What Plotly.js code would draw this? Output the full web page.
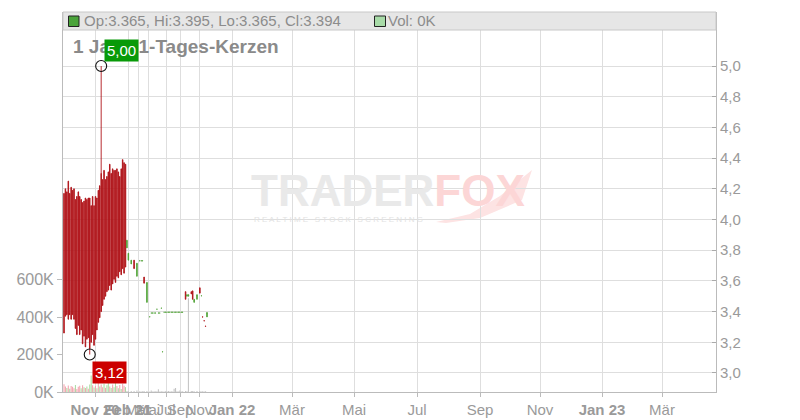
<!DOCTYPE html>
<html><head><meta charset="utf-8">
<script src="https://cdn.plot.ly/plotly-3.0.1.min.js"></script>
<style>html,body{margin:0;padding:0;background:#fff}#chart{width:800px;height:420px}</style>
</head><body><div id="chart"></div>
<script>
// ---- data (ordinal slot positions on a compressed time axis) ----
const slots = [0,1,2,3,4,5,6,7,8,9,10,11,12,13,14,15,16,17,18,19,20,21,22,23,24,25,26,27,28,29,30,31,32,33,34,35,36,37,38,39,40,41,42,43,
  44,45,47,49,51,53,54,55,56,58,60,61,62,63,64,65,66,67,68,69,
  70,71,72,73,74,75,76,77,78,79,80,81,82,83,85,86,87,89,90,91,93,95,96,97,98,99,100];
const opens = [4.17,4.20,4.18,4.25,4.17,4.21,4.19,4.20,4.13,4.15,4.18,4.15,4.13,4.11,4.12,4.14,4.13,4.14,4.14,4.09,4.15,4.09,4.15,4.14,4.19,4.22,4.30,4.26,4.32,4.26,4.28,4.31,4.36,4.30,4.33,4.32,4.32,4.33,4.31,4.28,4.33,4.39,4.37,4.36,
  3.815,3.735,3.71,3.735,3.63,3.730,3.730,3.730,3.625,3.46,3.365,3.390,3.390,3.390,3.390,3.415,3.390,3.390,3.422,3.137,
  3.395,3.395,3.395,3.395,3.395,3.395,3.395,3.395,3.395,3.395,3.395,3.395,3.395,3.395,3.53,3.500,3.50,3.53,3.535,3.46,3.48,3.555,3.502,3.366,3.341,3.306,3.365];
const highs = [4.17,4.20,4.18,4.25,4.17,4.21,4.19,4.20,4.13,4.15,4.18,4.15,4.13,4.11,4.12,4.14,4.13,4.14,4.14,4.09,4.15,4.09,4.15,4.14,4.19,4.22,5.00,4.26,4.32,4.26,4.28,4.31,4.36,4.30,4.33,4.32,4.32,4.33,4.31,4.28,4.33,4.39,4.37,4.36,
  3.865,3.78,3.735,3.735,3.715,3.731,3.731,3.731,3.625,3.59,3.366,3.391,3.391,3.391,3.391,3.416,3.391,3.391,3.423,3.138,
  3.396,3.396,3.396,3.396,3.396,3.396,3.396,3.396,3.396,3.396,3.396,3.396,3.396,3.396,3.53,3.51,3.51,3.53,3.535,3.48,3.51,3.555,3.503,3.366,3.341,3.306,3.395];
const lows = [3.26,3.37,3.38,3.35,3.38,3.35,3.38,3.35,3.29,3.25,3.31,3.25,3.28,3.19,3.24,3.17,3.22,3.23,3.12,3.20,3.25,3.18,3.22,3.28,3.33,3.36,3.40,3.44,3.48,3.50,3.53,3.54,3.57,3.54,3.58,3.61,3.59,3.63,3.62,3.66,3.64,3.68,3.65,3.69,
  3.815,3.735,3.71,3.68,3.63,3.730,3.730,3.730,3.585,3.46,3.365,3.390,3.390,3.390,3.390,3.415,3.390,3.390,3.422,3.137,
  3.395,3.395,3.395,3.395,3.395,3.395,3.395,3.395,3.395,3.395,3.395,3.395,3.395,3.395,3.48,3.500,3.50,3.515,3.48,3.46,3.48,3.52,3.502,3.364,3.339,3.304,3.365];
const closes = [3.26,3.37,3.38,3.35,3.38,3.35,3.38,3.35,3.29,3.25,3.31,3.25,3.28,3.19,3.24,3.17,3.22,3.23,3.16,3.20,3.25,3.18,3.22,3.28,3.33,3.36,3.40,3.44,3.48,3.50,3.53,3.54,3.57,3.54,3.58,3.61,3.59,3.63,3.62,3.66,3.64,3.68,3.65,3.69,
  3.865,3.78,3.735,3.68,3.715,3.731,3.731,3.731,3.585,3.59,3.366,3.391,3.391,3.391,3.391,3.416,3.391,3.391,3.423,3.138,
  3.396,3.396,3.396,3.396,3.396,3.396,3.396,3.396,3.396,3.396,3.396,3.396,3.396,3.396,3.48,3.51,3.51,3.515,3.48,3.48,3.51,3.52,3.503,3.364,3.339,3.304,3.394];
const volumesK = [42,30,22,35,18,32,28,20,38,16,28,34,20,36,26,22,30,18,40,88,36,24,32,20,50,30,40,26,44,22,36,56,30,22,40,26,48,32,20,38,16,44,34,26,
  6,4,5,6,8,4,3,4,6,5,3,8,3,4,3,4,15,3,4,3,
  3,4,3,5,3,4,3,18,22,4,3,8,3,4,6,4,500,5,6,4,5,6,3,4,3,4,0];
const volumeDir = ['d','d','u','d','u','d','d','d','u','d','d','d','u','d','u','d','u','d','u','u','d','u','d','u','d','u','d','d','u','d','u','u','d','u','d','u','u','d','u','d','u','d','d','u',
  'n','n','n','n','n','n','n','n','n','n','n','n','n','n','n','n','n','n','n','n',
  'n','n','n','n','n','n','n','n','n','n','n','n','n','n','n','n','n','n','n','n','n','n','n','n','n','n','n'];
const tickSlots = [21.68,44.76,51.75,58.74,71.33,81.12,94.41,117.48,159.44,202.80,246.85,290.91,332.87,376.22,418.18];
const tickLabels = ['<b>Nov 20</b>','<b>Feb 21</b>','Mär','Mai','Jul','Sep','Nov','<b>Jan 22</b>','Mär','Mai','Jul','Sep','Nov','<b>Jan 23</b>','Mär'];
const priceTicks = [3.0,3.2,3.4,3.6,3.8,4.0,4.2,4.4,4.6,4.8,5.0];
const volumeTicks = [0,200,400,600];

// ---- styling ----
const FONT = 'Liberation Sans, Arial, sans-serif';
const GREEN = '#4fa336', RED = '#b0141a';
const volColors = {u:'#acdca4', d:'#f2a7b0', n:'#c4c4c4'};
const W = 800, H = 420, L = 63, R = 716, T = 12, B = 392;
const px = x => (x - L) / (R - L);
const py = y => (B - y) / (B - T);

const n = closes.length;
let hiI = 0, loI = 0;
for (let i = 0; i < n; i++) { if (highs[i] > highs[hiI]) hiI = i; if (lows[i] < lows[loI]) loI = i; }
const fmt = v => v.toFixed(2).replace('.', ',');
const last = n - 1;

const traces = [
  {type:'bar', x:slots, y:volumesK, yaxis:'y2', width:0.75,
   marker:{color:volumeDir.map(d => volColors[d]), line:{width:0}}, hoverinfo:'skip', showlegend:false},
  {type:'candlestick', x:slots, open:opens, high:highs, low:lows, close:closes,
   increasing:{line:{color:GREEN, width:0.9}, fillcolor:GREEN},
   decreasing:{line:{color:RED, width:0.9}, fillcolor:RED},
   whiskerwidth:0, hoverinfo:'skip', showlegend:false},
  {type:'scatter', mode:'markers', x:[slots[hiI], slots[loI]], y:[highs[hiI], lows[loI]],
   marker:{symbol:'circle-open', size:11, color:'#111', line:{width:1.1, color:'#111'}},
   hoverinfo:'skip', showlegend:false}
];

const tail = 'M ' + [[436,222],[470,214],[500,196],[532,170],[522,200],[480,218],[446,223]]
  .map((p,i) => (i ? 'L ' : '') + px(p[0]) + ',' + py(p[1])).join(' ') + ' Z';

const layout = {
  width:W, height:H, margin:{l:L, r:W-R, t:T, b:H-B, pad:0},
  paper_bgcolor:'#fff', plot_bgcolor:'#fff', separators:',.',
  font:{family:FONT, color:'#999', size:15},
  showlegend:false, dragmode:false, boxgap:0.45,
  xaxis:{type:'linear', range:[-0.7, 455.94], tickvals:tickSlots, ticktext:tickLabels, tickangle:0, automargin:false,
    showgrid:true, gridcolor:'#dedede', gridwidth:1, zeroline:false,
    showline:true, linecolor:'#bbb', ticks:'outside', ticklen:4, tickcolor:'#bbb',
    tickfont:{size:15, color:'#9a9a9a', family:FONT}, rangeslider:{visible:false}, fixedrange:true},
  yaxis:{side:'right', range:[2.876, 5.352], tickvals:priceTicks, tickformat:'.1f', automargin:false,
    showgrid:true, gridcolor:'#dedede', zeroline:false, showline:true, linecolor:'#bbb',
    ticks:'inside', ticklen:4, tickcolor:'#aaa', tickfont:{size:15, color:'#9a9a9a', family:FONT}, fixedrange:true},
  yaxis2:{overlaying:'y', side:'left', range:[0, 2026.7], tickvals:volumeTicks, ticktext:volumeTicks.map(v => v + 'K'), automargin:false,
    showgrid:false, zeroline:false, showline:true, linecolor:'#bbb',
    ticks:'outside', ticklen:5, tickcolor:'#bbb', tickfont:{size:16, color:'#9a9a9a', family:FONT}, fixedrange:true},
  shapes:[
    {type:'path', xref:'paper', yref:'paper', path:tail, fillcolor:'#fde3e3', line:{width:0}, layer:'below'},
    {type:'rect', xref:'paper', yref:'paper', x0:0, x1:1, y0:py(30), y1:1, fillcolor:'#e6e6e6', line:{color:'#c8c8c8', width:1}, layer:'above', opacity:1},
    {type:'rect', xref:'paper', yref:'paper', x0:px(68.5), x1:px(79), y0:py(26.5), y1:py(16), fillcolor:'#4aa33a', line:{color:'#222', width:1}},
    {type:'rect', xref:'paper', yref:'paper', x0:px(374.5), x1:px(385.5), y0:py(26.5), y1:py(16), fillcolor:'#a8dba8', line:{color:'#222', width:1}}
  ],
  annotations:[
    {xref:'paper', yref:'paper', x:px(388), y:py(190), xanchor:'center', yanchor:'middle', showarrow:false,
     text:'<span style="color:#e9e9e9">TRADER</span><span style="color:#fcd6d6">FOX</span>',
     font:{family:FONT, size:44, color:'#e9e9e9', weight:'bold'}},
    {xref:'paper', yref:'paper', x:px(338), y:py(219), xanchor:'center', yanchor:'middle', showarrow:false,
     text:'R E A L T I M E   S T O C K   S C R E E N I N G', font:{family:FONT, size:8, color:'#e2e2e2'}},
    {xref:'paper', yref:'paper', x:px(82), y:py(21), xanchor:'left', yanchor:'middle', showarrow:false,
     text:'Op:' + opens[last].toFixed(3) + ', Hi:' + highs[last].toFixed(3) + ', Lo:' + lows[last].toFixed(3) + ', Cl:' + closes[last].toFixed(3),
     font:{family:FONT, size:15, color:'#8c8c8c'}},
    {xref:'paper', yref:'paper', x:px(386), y:py(21), xanchor:'left', yanchor:'middle', showarrow:false,
     text:'Vol: ' + volumesK[last] + 'K', font:{family:FONT, size:15, color:'#8c8c8c'}},
    {xref:'paper', yref:'paper', x:px(71), y:py(47), xanchor:'left', yanchor:'middle', showarrow:false,
     text:'<b>1 Jahr, 1-Tages-Kerzen</b>', font:{family:FONT, size:19, color:'#8a8a8a'}},
    {x:slots[hiI], y:highs[hiI], xref:'x', yref:'y', xanchor:'left', yanchor:'bottom', xshift:3, yshift:4,
     showarrow:false, text:fmt(highs[hiI]), bgcolor:'#089a08', borderpad:2, font:{family:FONT, size:15, color:'#fff'}},
    {x:slots[loI], y:lows[loI], xref:'x', yref:'y', xanchor:'left', yanchor:'top', xshift:2, yshift:-6,
     showarrow:false, text:fmt(lows[loI]), bgcolor:'#cc0000', borderpad:2, font:{family:FONT, size:15, color:'#fff'}}
  ]
};

Plotly.newPlot('chart', traces, layout, {staticPlot:true, displayModeBar:false});
</script>
</body></html>
